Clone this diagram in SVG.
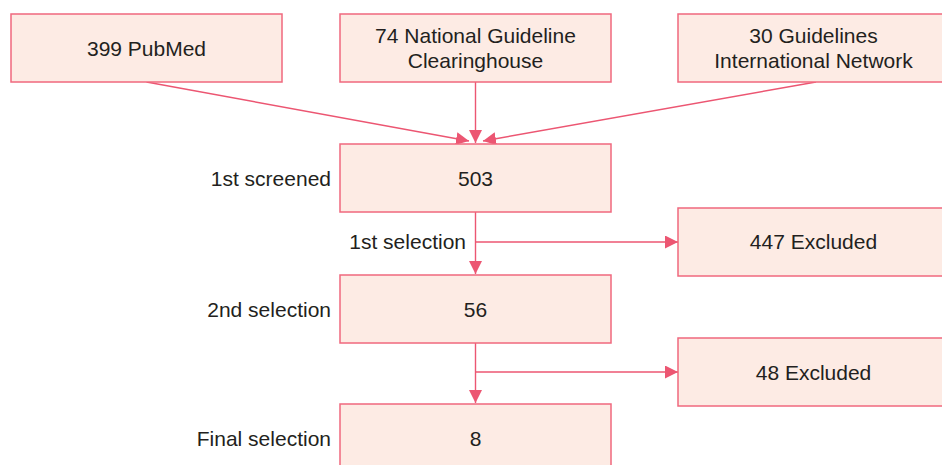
<svg xmlns="http://www.w3.org/2000/svg" width="942" height="465" viewBox="0 0 942 465">
<defs>
<style>
.box{fill:#fdebe4;stroke:#f0687e;stroke-width:1.5}
.t{font-family:"Liberation Sans",Arial,sans-serif;font-size:21px;fill:#231f20;text-anchor:middle}
.l{font-family:"Liberation Sans",Arial,sans-serif;font-size:21px;fill:#231f20;text-anchor:end}
.c{stroke:#ec5672;stroke-width:1.4;fill:none;marker-end:url(#ah)}
</style>
<marker id="ah" markerUnits="userSpaceOnUse" markerWidth="14" markerHeight="14" refX="13" refY="6.5" orient="auto">
<path d="M0,0 L13,6.5 L0,13 z" fill="#ec5672"/>
</marker>
</defs>
<rect width="942" height="465" fill="#ffffff"/>
<g id="connectors">
<line class="c" x1="146.5" y1="82" x2="469" y2="141"/>
<line class="c" x1="475.5" y1="82" x2="475.5" y2="143"/>
<line class="c" x1="816" y1="82" x2="483" y2="141"/>
<line class="c" x1="475.5" y1="212" x2="475.5" y2="274"/>
<line class="c" x1="475.5" y1="242" x2="678" y2="242"/>
<line class="c" x1="475.5" y1="343" x2="475.5" y2="403"/>
<line class="c" x1="475.5" y1="372" x2="678" y2="372"/>
</g>
<g id="pubmed"><rect class="box" x="11" y="14" width="271" height="68"/><text class="t" x="146.5" y="55.5">399 PubMed</text></g>
<g id="ngc"><rect class="box" x="340" y="14" width="271" height="68"/><text class="t" x="475.5" y="43">74 National Guideline</text><text class="t" x="475.5" y="68">Clearinghouse</text></g>
<g id="gin"><rect class="box" x="678" y="14" width="271" height="68"/><text class="t" x="813.5" y="43">30 Guidelines</text><text class="t" x="813.5" y="68">International Network</text></g>
<g id="screened"><rect class="box" x="340" y="144" width="271" height="68"/><text class="t" x="475.5" y="185.5">503</text></g>
<g id="excluded1"><rect class="box" x="678" y="208" width="271" height="68"/><text class="t" x="813.5" y="249">447 Excluded</text></g>
<g id="second"><rect class="box" x="340" y="275" width="271" height="68"/><text class="t" x="475.5" y="316.5">56</text></g>
<g id="excluded2"><rect class="box" x="678" y="338" width="271" height="68"/><text class="t" x="813.5" y="379.5">48 Excluded</text></g>
<g id="final"><rect class="box" x="340" y="404" width="271" height="68"/><text class="t" x="475.5" y="446">8</text></g>
<g id="labels">
<text class="l" x="331" y="185.5">1st screened</text>
<text class="l" x="466" y="249">1st selection</text>
<text class="l" x="331" y="316.5">2nd selection</text>
<text class="l" x="331" y="446">Final selection</text>
</g>
</svg>
